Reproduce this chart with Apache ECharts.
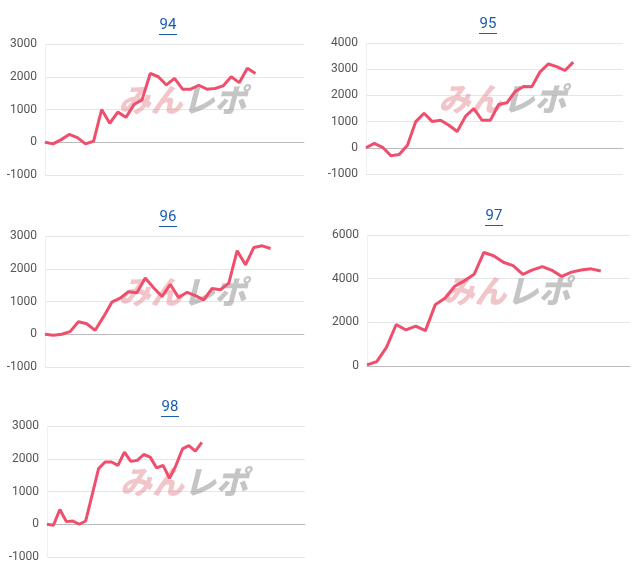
<!DOCTYPE html>
<html><head><meta charset="utf-8">
<script src="https://cdn.jsdelivr.net/npm/echarts@6/dist/echarts.min.js"></script>
<style>html,body{margin:0;padding:0;background:#fff}#main{width:636px;height:576px}</style>
</head><body><div id="main"></div>
<script>
const titles = ['94', '95', '96', '97', '98'];
const catCounts = [33, 32, 32, 28, 41];
const data94 = [0, -50, 80, 240, 140, -50, 30, 1000, 580, 920, 760, 1150, 1300, 2100, 2000, 1750, 1950, 1620, 1620, 1740, 1620, 1640, 1720, 2000, 1820, 2260, 2100];
const data95 = [0, 170, 20, -300, -260, 100, 1000, 1320, 1000, 1050, 860, 620, 1200, 1500, 1050, 1050, 1650, 1720, 2150, 2340, 2330, 2900, 3200, 3100, 2950, 3270];
const data96 = [0, -30, 0, 80, 380, 320, 120, 530, 980, 1100, 1300, 1270, 1720, 1420, 1150, 1520, 1120, 1280, 1180, 1050, 1400, 1360, 1560, 2550, 2120, 2650, 2700, 2620];
const data97 = [50, 200, 850, 1900, 1650, 1830, 1620, 2800, 3100, 3650, 3900, 4200, 5200, 5050, 4750, 4600, 4200, 4400, 4550, 4380, 4100, 4300, 4400, 4450, 4350];
const data98 = [0, -30, 450, 80, 100, 0, 100, 900, 1700, 1900, 1900, 1800, 2200, 1920, 1950, 2130, 2050, 1720, 1800, 1400, 1800, 2300, 2400, 2230, 2500];
const yMins = [-1000, -1000, -1000, 0, -1000];
const yMaxs = [3000, 4000, 3000, 6000, 3000];
const yIntervals = [1000, 1000, 1000, 2000, 1000];
const allData = [data94, data95, data96, data97, data98];

// grid boxes [left, top, width, height]
const boxes = [
  [45, 44, 259, 131],
  [366, 43, 257, 131],
  [45, 236, 259, 131],
  [367, 235, 263, 131],
  [47, 426, 258, 131]
];
const titleX = [168, 488, 168, 494, 170];

const myChart = echarts.init(document.getElementById('main'));
const grid = [], xAxis = [], yAxis = [], series = [], graphic = [];
boxes.forEach((b, i) => {
  grid.push({ left: b[0], top: b[1], width: b[2], height: b[3] });
  xAxis.push({
    type: 'category', gridIndex: i, boundaryGap: false,
    data: Array.from({ length: catCounts[i] }, (_, k) => k + 1),
    axisLabel: { show: false }, axisTick: { show: false },
    axisLine: { lineStyle: { color: '#bbb' } }
  });
  yAxis.push({
    type: 'value', gridIndex: i, min: yMins[i], max: yMaxs[i], interval: yIntervals[i],
    axisLabel: { color: '#555', fontSize: 12, fontFamily: 'Roboto', formatter: v => String(v) },
    axisLine: { show: true, lineStyle: { color: '#f0f0f0' } },
    splitLine: { lineStyle: { color: '#e6e6e6' } }
  });
  series.push({
    type: 'line', xAxisIndex: i, yAxisIndex: i, data: allData[i],
    symbol: 'none', lineStyle: { color: '#ef4f6c', width: 3 }, z: 5
  });
  const cx = b[0] + b[2] / 2;
  // watermark
  graphic.push({
    type: 'text', x: cx + 8, y: b[1] + b[3] * 0.43, z: 1,
    style: {
      text: '{a|みん}{b|レポ}', align: 'center', verticalAlign: 'middle',
      rich: {
        a: { fill: 'rgba(228,140,148,0.5)', fontSize: 32, fontWeight: 900, fontStyle: 'italic', fontFamily: 'Noto Sans CJK JP' },
        b: { fill: 'rgba(140,140,140,0.5)', fontSize: 32, fontWeight: 900, fontStyle: 'italic', fontFamily: 'Noto Sans CJK JP' }
      }
    }
  });
  // title with underline
  graphic.push({
    type: 'text', x: titleX[i], y: b[1] - 19, z: 10,
    style: { text: titles[i], fill: '#1a5cb0', fontSize: 15, fontFamily: 'Roboto', align: 'center', verticalAlign: 'middle' }
  });
  graphic.push({
    type: 'rect', x: titleX[i] - 9, y: b[1] - 10, z: 10,
    shape: { width: 18, height: 1 }, style: { fill: '#1a5cb0' }
  });
});

myChart.setOption({
  animation: false,
  grid: grid, xAxis: xAxis, yAxis: yAxis, series: series, graphic: graphic
});
</script>
</body></html>
